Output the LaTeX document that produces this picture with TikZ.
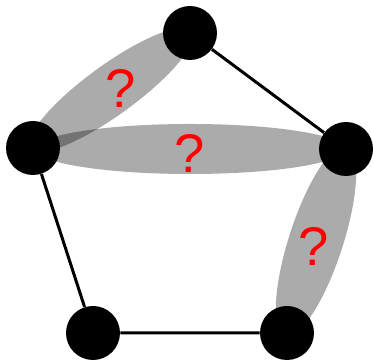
\documentclass[tikz,border=0pt]{standalone}
\usepackage{fontspec}
\setmainfont{Liberation Sans}
\begin{document}
\begin{tikzpicture}[x = 0.02cm, y = 0.02cm]
			\tikzset{vertex/.style = {circle, fill = black, minimum size = 1.08cm, inner sep = 0pt},
				blob/.style = {fill = black, opacity = 0.33},
				ask/.style = {text = red, font = \fontsize{31}{31}\selectfont, inner sep = 0pt}}
			\useasboundingbox (0,0) rectangle (373,361);
			
			\fill[blob, rotate around = {36:(111,271)}] (111,271) ellipse (100 and 25);
			\fill[blob] (190,212) ellipse (155 and 25);
			\fill[blob, rotate around = {72:(316,120)}] (316,120) ellipse (100 and 27);
			
			\node[vertex] (v1) at (190,328) {};
			\node[vertex] (v2) at (33,213) {};
			\node[vertex] (v3) at (346,212) {};
			\node[vertex] (v4) at (93,28) {};
			\node[vertex] (v5) at (287,28) {};
			
			\draw[line width = 0.06cm] (v1) -- (v3);
			\draw[line width = 0.06cm] (v2) -- (v4) -- (v5);
			
			\node[ask] (q1) at (121,273) {?};
			\node[ask] (q2) at (190,208) {?};
			\node[ask] (q3) at (314,115) {?};
		\end{tikzpicture}
\end{document}
